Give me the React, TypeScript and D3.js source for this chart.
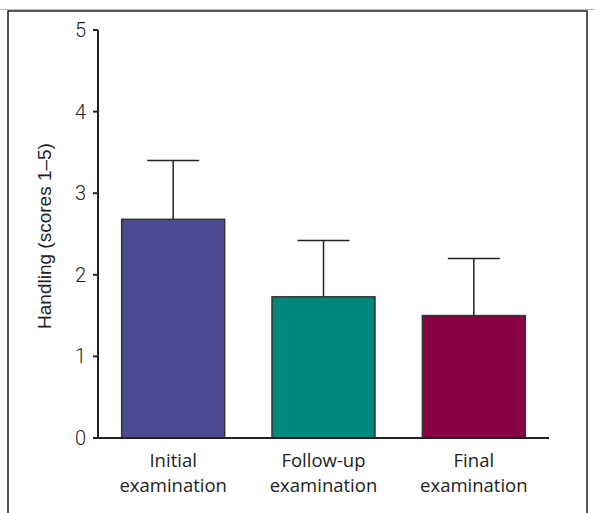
import React from "react";
import * as d3 from "d3";

const categories = ["Initial examination", "Follow-up examination", "Final examination"];
const catLines = [["Initial", "examination"], ["Follow-up", "examination"], ["Final", "examination"]];
const means = [2.68, 1.73, 1.5];
const errTops = [3.4, 2.42, 2.2];
const colors = ["#4C4A93", "#00877B", "#8A0044"];
const yTicks = [0, 1, 2, 3, 4, 5];

export default function App() {
  const W = 595, H = 513;
  const x0 = 98, x1 = 549, yBase = 438, yTop = 30;
  const x = d3.scaleBand<string>().domain(categories).range([x0, x1]).paddingInner(0.315).paddingOuter(0.1575);
  const y = d3.scaleLinear().domain([0, 5]).range([yBase, yTop]);
  const bw = x.bandwidth();
  return (
    <svg width={W} height={H} style={{ position: "absolute", left: 0, top: 0 }}>
      <rect x={0} y={0} width={W} height={H} fill="#fff" />
      <line x1={0} x2={W} y1={9.5} y2={9.5} stroke="#bbb" strokeWidth={1} />
      <path d={`M8,${H + 5}V11H587V${H + 5}`} fill="none" stroke="#222" strokeWidth={1.5} />
      {categories.map((c, i) => {
        const bx = x(c)!;
        const cx = bx + bw / 2;
        return (
          <g key={c}>
            <line x1={cx} x2={cx} y1={y(means[i])} y2={y(errTops[i])} stroke="#222" strokeWidth={1.5} />
            <line x1={cx - 26} x2={cx + 26} y1={y(errTops[i])} y2={y(errTops[i])} stroke="#222" strokeWidth={1.5} />
            <rect x={bx} y={y(means[i])} width={bw} height={yBase - y(means[i])} fill={colors[i]} stroke="#333" strokeWidth={1.5} />
            {catLines[i].map((t, j) => (
              <text key={j} x={cx} y={467 + j * 25} textAnchor="middle" fontFamily="'Open Sans', sans-serif" fontSize={18.5} fill="#222">{t}</text>
            ))}
          </g>
        );
      })}
      <line x1={x0} x2={x0} y1={yTop} y2={yBase + 1} stroke="#222" strokeWidth={2} />
      <line x1={x0 - 1} x2={x1} y1={yBase} y2={yBase} stroke="#222" strokeWidth={2} />
      {yTicks.map((t) => (
        <g key={t}>
          <line x1={x0 - 5} x2={x0} y1={y(t)} y2={y(t)} stroke="#222" strokeWidth={2} />
          <text x={x0 - 12} y={y(t) + 7} textAnchor="end" fontFamily="Roboto, 'Liberation Sans', sans-serif" fontWeight={300} fontSize={20} fill="#222">{t}</text>
        </g>
      ))}
      <text transform={`translate(51,${(yTop + yBase) / 2 + 2}) rotate(-90)`} textAnchor="middle" fontFamily="'Liberation Sans', Arial, sans-serif" fontSize={19} fill="#222">Handling (scores 1–5)</text>
    </svg>
  );
}
